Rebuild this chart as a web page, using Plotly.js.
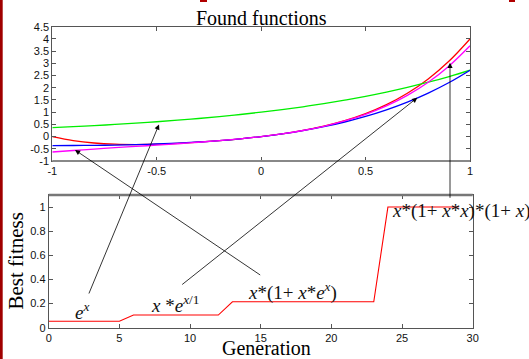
<!DOCTYPE html>
<html>
<head>
<meta charset="utf-8">
<script src="https://cdn.plot.ly/plotly-3.0.1.min.js"></script>
<style>html,body{margin:0;padding:0;background:#fff;}#chart{width:529px;height:359px;}</style>
</head>
<body>
<div id="chart"></div>
<script>
// Top panel: found functions sampled over x
const fx = [-1, -0.9, -0.8, -0.7, -0.6, -0.5, -0.4, -0.3, -0.2, -0.1, 0, 0.1, 0.2, 0.3, 0.4, 0.5, 0.6, 0.7, 0.8, 0.9, 1];
const fRed = [0, -0.163, -0.262, -0.313, -0.326, -0.313, -0.278, -0.229, -0.166, -0.091, 0, 0.111, 0.25, 0.425, 0.65, 0.938, 1.306, 1.773, 2.362, 3.095, 4.0];
const fGreen = [0.368, 0.407, 0.449, 0.497, 0.549, 0.607, 0.67, 0.741, 0.819, 0.905, 1.0, 1.105, 1.221, 1.35, 1.492, 1.649, 1.822, 2.014, 2.226, 2.46, 2.718];
const fBlue = [-0.368, -0.366, -0.359, -0.348, -0.329, -0.303, -0.268, -0.222, -0.164, -0.09, 0, 0.111, 0.244, 0.405, 0.597, 0.824, 1.093, 1.41, 1.781, 2.214, 2.718];
const fMagenta = [-0.632, -0.571, -0.513, -0.456, -0.403, -0.348, -0.293, -0.233, -0.167, -0.091, 0, 0.111, 0.249, 0.422, 0.639, 0.912, 1.256, 1.687, 2.225, 2.893, 3.718];

// Bottom panel: best fitness per generation
const generation = [0,1,2,3,4,5,6,7,8,9,10,11,12,13,14,15,16,17,18,19,20,21,22,23,24,25,26,27,28,29];
const bestFitness = [0.053,0.053,0.053,0.053,0.053,0.053,0.105,0.105,0.105,0.105,0.105,0.105,0.105,0.215,0.215,0.215,0.215,0.215,0.215,0.215,0.215,0.215,0.215,0.215,1.0,1.0,1.0,1.0,1.0,1.0];

// Tick labels
const topXTicks = [-1, -0.5, 0, 0.5, 1];
const topXText = ['-1', '-0.5', '0', '0.5', '1'];
const topYTicks = [-1, -0.5, 0, 0.5, 1, 1.5, 2, 2.5, 3, 3.5, 4, 4.5];
const topYText = ['-1', '-0.5', '0', '0.5', '1', '1.5', '2', '2.5', '3', '3.5', '4', '4.5'];
const botXTicks = [0, 5, 10, 15, 20, 25, 30];
const botXText = ['0', '5', '10', '15', '20', '25', '30'];
const botYTicks = [0, 0.2, 0.4, 0.6, 0.8, 1];
const botYText = ['0', '0.2', '0.4', '0.6', '0.8', '1'];

const W = 529, H = 359;
const px = v => v / W;
const py = v => 1 - v / H;

const lw = 1.3;
const traces = [
  {x: fx, y: fRed, mode: 'lines', line: {color: '#ff0000', width: lw, shape: 'spline'}, xaxis: 'x', yaxis: 'y'},
  {x: fx, y: fGreen, mode: 'lines', line: {color: '#00ee00', width: lw, shape: 'spline'}, xaxis: 'x', yaxis: 'y'},
  {x: fx, y: fBlue, mode: 'lines', line: {color: '#0000ff', width: lw, shape: 'spline'}, xaxis: 'x', yaxis: 'y'},
  {x: fx, y: fMagenta, mode: 'lines', line: {color: '#ff00ff', width: lw, shape: 'spline'}, xaxis: 'x', yaxis: 'y'},
  {x: generation, y: bestFitness, mode: 'lines', line: {color: '#ff0000', width: 1.1}, xaxis: 'x2', yaxis: 'y2'}
];

const tickFont = {family: 'Liberation Sans, Arial, sans-serif', size: 11, color: '#111'};
const axBase = {
  showline: true, linecolor: '#555', linewidth: 1, mirror: 'allticks',
  ticks: 'inside', ticklen: 4, tickcolor: '#555', tickwidth: 1,
  showgrid: false, zeroline: false, tickfont: tickFont, fixedrange: true, tickmode: 'array'
};

const serif = 'Liberation Serif, Times New Roman, serif';
const mathFont = {family: serif, size: 19, color: '#111'};

function arrow(hx, hy, tx, ty) {
  return {xref: 'paper', yref: 'paper', x: px(hx), y: py(hy), ax: tx - hx, ay: ty - hy,
    axref: 'pixel', ayref: 'pixel', text: '', showarrow: true,
    arrowhead: 2, arrowsize: 1.3, arrowwidth: 0.8, arrowcolor: '#000', standoff: 0, startstandoff: 0};
}
function label(text, lx, my) {
  return {xref: 'paper', yref: 'paper', x: px(lx), y: py(my), xanchor: 'left', yanchor: 'middle',
    text: text, showarrow: false, font: mathFont};
}

const layout = {
  width: W, height: H,
  margin: {l: 0, r: 0, t: 0, b: 0},
  paper_bgcolor: '#ffffff', plot_bgcolor: '#ffffff',
  showlegend: false,
  xaxis: Object.assign({}, axBase, {domain: [px(52.3), px(470)], range: [-1, 1], tickvals: topXTicks, ticktext: topXText, anchor: 'y'}),
  yaxis: Object.assign({}, axBase, {domain: [py(161), py(26.7)], range: [-1, 4.5], tickvals: topYTicks, ticktext: topYText, anchor: 'x'}),
  xaxis2: Object.assign({}, axBase, {domain: [px(48.7), px(472.7)], range: [0, 30], tickvals: botXTicks, ticktext: botXText, anchor: 'y2'}),
  yaxis2: Object.assign({}, axBase, {domain: [py(327.7), py(195)], range: [0, 1.1], tickvals: botYTicks, ticktext: botYText, anchor: 'x2'}),
  shapes: [
    {type: 'line', xref: 'paper', yref: 'paper', x0: px(52.3), x1: px(470), y0: py(161), y1: py(161), line: {color: '#888', width: 2}},
    {type: 'line', xref: 'paper', yref: 'paper', x0: px(48.7), x1: px(472.7), y0: py(195), y1: py(195), line: {color: '#777', width: 2.5}},
    {type: 'rect', xref: 'paper', yref: 'paper', x0: 0, x1: px(2.7), y0: 0, y1: 1, fillcolor: '#a00000', line: {width: 0}},
    {type: 'rect', xref: 'paper', yref: 'paper', x0: px(200), x1: px(207), y0: py(2), y1: 1, fillcolor: '#b00000', line: {width: 0}},
    {type: 'rect', xref: 'paper', yref: 'paper', x0: px(509), x1: px(515), y0: py(2), y1: 1, fillcolor: '#b00000', line: {width: 0}}
  ],
  annotations: [
    {xref: 'paper', yref: 'paper', x: px(261.5), y: py(17.5), xanchor: 'center', yanchor: 'middle', text: 'Found functions', showarrow: false, font: {family: serif, size: 20, color: '#000'}},
    {xref: 'paper', yref: 'paper', x: px(15), y: py(261.5), xanchor: 'center', yanchor: 'middle', textangle: -90, text: 'Best fitness', showarrow: false, font: {family: serif, size: 21, color: '#000'}},
    {xref: 'paper', yref: 'paper', x: px(266), y: py(348), xanchor: 'center', yanchor: 'middle', text: 'Generation', showarrow: false, font: {family: serif, size: 20, color: '#000'}},
    arrow(159, 124.5, 88.3, 295),
    arrow(417.3, 97.7, 180.7, 285.7),
    arrow(75, 150, 261.7, 276),
    arrow(450, 62.7, 450, 199.3),
    label('<i>e</i><sup><i>x</i></sup>', 73, 311),
    label('<i>x</i> *<i>e</i><sup><i>x</i>/1</sup>', 149, 304),
    label('<i>x</i>*(1+ <i>x</i>*<i>e</i><sup><i>x</i></sup>)', 246, 291),
    label('<i>x</i>*(1+ <i>x</i>*<i>x</i>)*(1+ <i>x</i>)', 390, 211)
  ]
};

Plotly.newPlot('chart', traces, layout, {staticPlot: true, displayModeBar: false});
</script>
</body>
</html>
